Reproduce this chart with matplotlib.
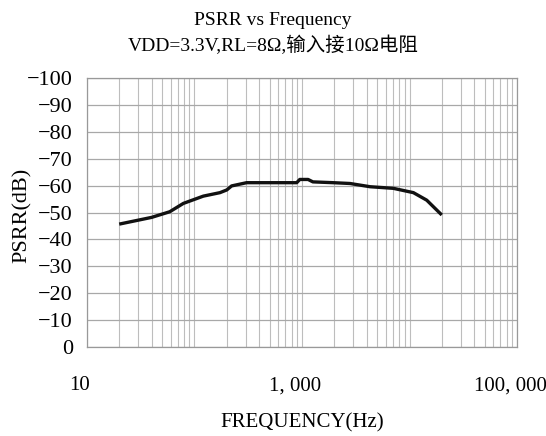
import matplotlib
matplotlib.use("Agg")
from matplotlib import pyplot as plt
from matplotlib.ticker import FixedLocator, LogLocator, NullFormatter
from matplotlib.transforms import ScaledTranslation
import numpy as np

plt.rcParams['font.family'] = ['Liberation Serif', 'Noto Sans CJK SC', 'DejaVu Sans']

# curve
freq = [20, 40, 59, 79, 121, 173, 200, 222, 306, 894, 955, 1140, 1265,
        1955, 2800, 4300, 7080, 10870, 14460, 19950]
psrr = [-45.7, -48.2, -50.3, -53.4, -56.1, -57.4, -58.4, -59.9, -61.1, -61.1,
        -62.3, -62.3, -61.4, -61.1, -60.8, -59.6, -59.0, -57.4, -54.6, -49.1]

x_ticks = [10, 1000, 100000]
x_labels = ["10", "1, 000", "100, 000"]
y_ticks = list(range(0, -101, -10))

fig = plt.figure(figsize=(5.46, 4.36), dpi=100)
ax = fig.add_axes([0.159, 0.204, 0.788, 0.617])

ax.plot(freq, psrr, color='#111111', lw=2.4, solid_capstyle='butt')

ax.set_xscale('log')
ax.set_xlim(10, 100000)
ax.set_ylim(0, -100)

ax.xaxis.set_major_locator(FixedLocator(x_ticks))
ax.set_xticklabels(x_labels)
ax.xaxis.set_minor_locator(LogLocator(base=10, subs=np.arange(1, 10), numticks=20))
ax.xaxis.set_minor_formatter(NullFormatter())
ax.set_yticks(y_ticks)
ax.set_yticklabels([str(v).replace('-', '\u2212') for v in y_ticks])

ax.grid(True, which='both', axis='x', color='#bdbdbd', lw=0.8)
ax.grid(True, which='major', axis='y', color='#a8a8a8', lw=0.9)
ax.tick_params(which='both', length=0)
ax.tick_params(axis='y', labelsize=16, pad=10)
ax.tick_params(axis='x', labelsize=15, pad=21)
# labels sit a little left of their ticks in the reference
shift = ScaledTranslation(-7 / 100, 0, fig.dpi_scale_trans)
for lab in ax.get_xticklabels():
    lab.set_transform(lab.get_transform() + shift)
for s in ax.spines.values():
    s.set_color('#999999')
    s.set_linewidth(0.9)

ax.set_xlabel('FREQUENCY(Hz)', fontsize=15, labelpad=13)
fig.text(0.040, 0.507, 'PSRR(dB)', rotation=90, ha='center', va='center', fontsize=16)

fig.text(0.5, 0.953, 'PSRR vs Frequency', ha='center', va='center', fontsize=14)
fig.text(0.5, 0.896, 'VDD=3.3V,RL=8Ω,输入接10Ω电阻', ha='center', va='center', fontsize=14)

fig.savefig('out.png', dpi=100)
